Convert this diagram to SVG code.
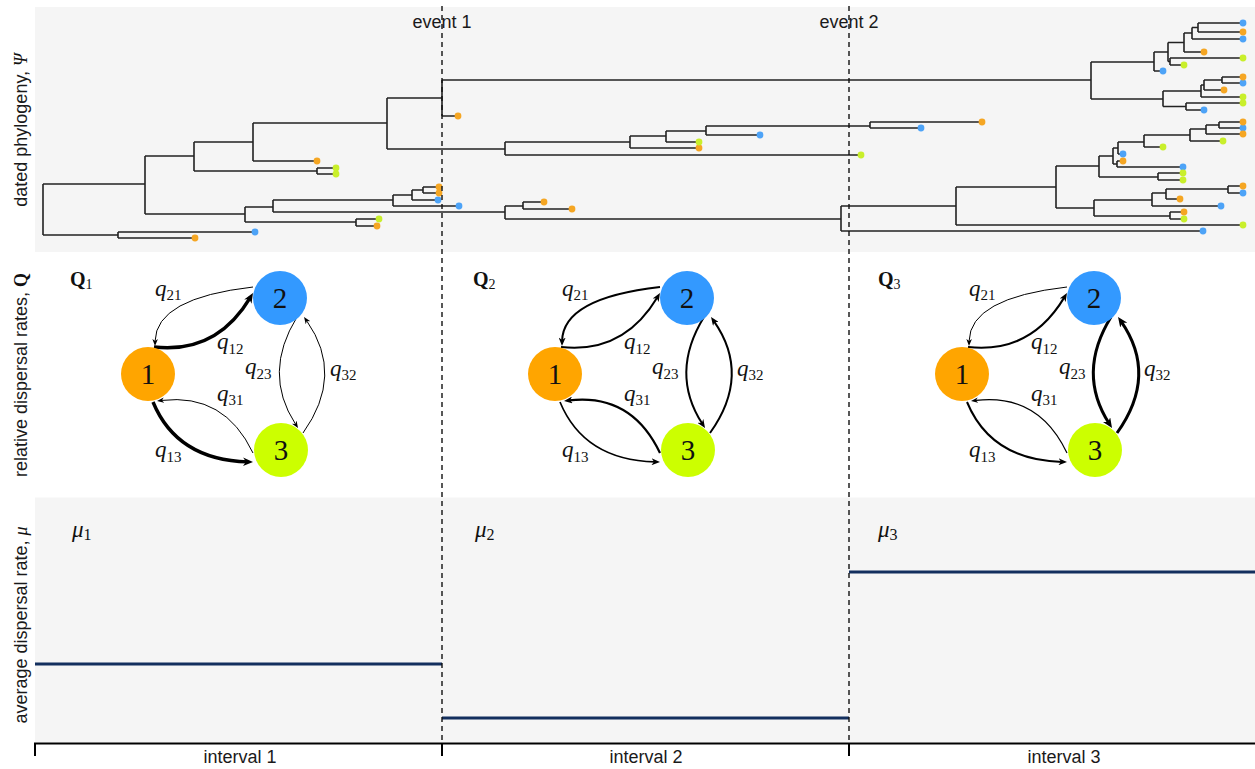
<svg xmlns="http://www.w3.org/2000/svg" width="1255" height="769" viewBox="0 0 1255 769">
<style>
.panel{fill:#f5f5f5}
.tree{fill:none;stroke:#222;stroke-width:1.6}
.tb{fill:#4da3f7}.to{fill:#f5a623}.tg{fill:#c9ef2b}
.ev{stroke:#111;stroke-width:1.4;stroke-dasharray:5 4;fill:none}
.lab{font-family:"Liberation Sans",Arial,sans-serif;font-size:18px;fill:#1a1a1a}
.math{font-family:"Liberation Serif","DejaVu Serif",serif;fill:#111}
.q{font-size:23px}
.sub{font-size:15px;font-style:normal}
.num{font-family:"Liberation Serif","DejaVu Serif",serif;font-size:29px;text-anchor:middle;fill:#111}
.edge{fill:none;stroke:#000}
.w1{stroke-width:1;marker-end:url(#a1)}
.w2{stroke-width:2;marker-end:url(#a2)}
.w3{stroke-width:3.4;marker-end:url(#a3)}
.rate{stroke:#132f5e;stroke-width:3;fill:none}
.axis{stroke:#000;stroke-width:2;fill:none}
</style>
<defs>
<marker id="a1" markerUnits="userSpaceOnUse" markerWidth="7" markerHeight="5.6" refX="2" refY="2.8" orient="auto"><path d="M0,0 L7,2.8 L0,5.6 L2.1,2.8 Z" fill="#000"/></marker>
<marker id="a2" markerUnits="userSpaceOnUse" markerWidth="8.5" markerHeight="7" refX="3.5" refY="3.5" orient="auto"><path d="M0,0 L8.5,3.5 L0,7 L2.5,3.5 Z" fill="#000"/></marker>
<marker id="a3" markerUnits="userSpaceOnUse" markerWidth="10" markerHeight="8.6" refX="5" refY="4.3" orient="auto"><path d="M0,0 L10,4.3 L0,8.6 L3,4.3 Z" fill="#000"/></marker>
</defs>

<rect width="1255" height="769" fill="#fff"/>
<rect class="panel" x="35" y="7" width="1220" height="245"/>
<rect class="panel" x="35" y="497.5" width="1220" height="245"/>

<g id="phylogeny">
<path class="tree" d="M43 184V235M43 184H145M43 235H118
M118 232V238M118 232H255M118 238H195
M145 156V214M145 156H194M145 214H245
M194 142V171M194 142H253M194 171H317
M317 168V174M317 168H336M317 174H336
M253 123V161M253 123H387M253 161H317
M387 98V149M387 98H442M387 149H505
M442 80V116M442 80H1091M442 116H458
M505 142V155M505 142H630M505 155H861
M630 136V148M630 136H666M630 148H699
M666 131V142M666 131H706M666 142H699
M706 126V135M706 126H870M706 135H760
M870 122V128M870 122H982M870 128H921
M245 207V222M245 207H273M245 222H356
M356 219V226M356 219H379M356 226H377
M273 200V212M273 200H393M273 212H505
M393 195V206M393 195H412M393 206H459
M412 190V200M412 190H423M412 200H438
M423 187V193M423 187H439M423 193H439
M505 206V219M505 206H523M505 219H841
M523 202V209M523 202H544M523 209H572
M841 206V231M841 206H956M841 231H1203
M956 187V225M956 187H1056M956 225H1243
M1056 166V208M1056 166H1099M1056 208H1094
M1099 156V177M1099 156H1113M1099 177H1158
M1158 173V180M1158 173H1183M1158 180H1183
M1113 148V164M1113 148H1118M1113 164H1117
M1118 142V154M1118 142H1144M1118 154H1123
M1117 161V167M1117 161H1123M1117 167H1183
M1144 135V147M1144 135H1190M1144 147H1163
M1190 129V141M1190 129H1206M1190 141H1223
M1206 125V134M1206 125H1219M1206 134H1243
M1219 122V128M1219 122H1243M1219 128H1243
M1094 200V216M1094 200H1152M1094 216H1170
M1152 193V206M1152 193H1166M1152 206H1221
M1166 189V199M1166 189H1228M1166 199H1180
M1228 186V193M1228 186H1243M1228 193H1243
M1170 212V219M1170 212H1184M1170 219H1184
M1091 62V99M1091 62H1154M1091 99H1163
M1154 52V71M1154 52H1168M1154 71H1163
M1168 42.5V61.5M1168 42.5H1184M1168 61.5H1170
M1184 33V52M1184 33H1192M1184 52H1204
M1192 27.5V39M1192 27.5H1198M1192 39H1243
M1198 23V32M1198 23H1243M1198 32H1243
M1170 58V65M1170 58H1243M1170 65H1184
M1163 91V106.5M1163 91H1201M1163 106.5H1186
M1201 85V97M1201 85H1204M1201 97H1243
M1204 80V90M1204 80H1222M1204 90H1224
M1222 77V83M1222 77H1243M1222 83H1243
M1186 103V110M1186 103H1243M1186 110H1204"/>
<g class="tb">
<circle cx="255" cy="232" r="3.4"/><circle cx="760" cy="135" r="3.4"/><circle cx="921" cy="128" r="3.4"/><circle cx="459" cy="206" r="3.4"/><circle cx="438" cy="200" r="3.4"/><circle cx="1203" cy="231" r="3.4"/><circle cx="1123" cy="154" r="3.4"/><circle cx="1183" cy="167" r="3.4"/><circle cx="1243" cy="128" r="3.4"/><circle cx="1221" cy="206" r="3.4"/><circle cx="1243" cy="193" r="3.4"/><circle cx="1163" cy="71" r="3.4"/><circle cx="1243" cy="39" r="3.4"/><circle cx="1243" cy="23" r="3.4"/><circle cx="1243" cy="83" r="3.4"/><circle cx="1204" cy="110" r="3.4"/>
</g>
<g class="to">
<circle cx="195" cy="238" r="3.4"/><circle cx="317" cy="161" r="3.4"/><circle cx="458" cy="116" r="3.4"/><circle cx="699" cy="148" r="3.4"/><circle cx="982" cy="122" r="3.4"/><circle cx="377" cy="226" r="3.4"/><circle cx="439" cy="187" r="3.4"/><circle cx="439" cy="193" r="3.4"/><circle cx="544" cy="202" r="3.4"/><circle cx="572" cy="209" r="3.4"/><circle cx="1123" cy="161" r="3.4"/><circle cx="1243" cy="134" r="3.4"/><circle cx="1243" cy="122" r="3.4"/><circle cx="1180" cy="199" r="3.4"/><circle cx="1243" cy="186" r="3.4"/><circle cx="1184" cy="212" r="3.4"/><circle cx="1204" cy="52" r="3.4"/><circle cx="1243" cy="32" r="3.4"/><circle cx="1224" cy="90" r="3.4"/><circle cx="1243" cy="77" r="3.4"/>
</g>
<g class="tg">
<circle cx="336" cy="168" r="3.4"/><circle cx="336" cy="174" r="3.4"/><circle cx="861" cy="155" r="3.4"/><circle cx="699" cy="142" r="3.4"/><circle cx="379" cy="219" r="3.4"/><circle cx="1243" cy="225" r="3.4"/><circle cx="1183" cy="173" r="3.4"/><circle cx="1183" cy="180" r="3.4"/><circle cx="1163" cy="147" r="3.4"/><circle cx="1223" cy="141" r="3.4"/><circle cx="1184" cy="219" r="3.4"/><circle cx="1243" cy="58" r="3.4"/><circle cx="1184" cy="65" r="3.4"/><circle cx="1243" cy="97" r="3.4"/><circle cx="1243" cy="103" r="3.4"/>
</g>
</g>

<g id="rates">
<path class="rate" d="M35 664H442M442 718H849M849 572H1255"/>
</g>

<g id="events">
<path class="ev" d="M442 6V743M849 6V743"/>
<text class="lab" x="442" y="28" text-anchor="middle">event 1</text>
<text class="lab" x="849" y="28" text-anchor="middle">event 2</text>
</g>

<g id="axis">
<path class="axis" d="M35 743.5H1255M35 742.5V756M442 742.5V756M849 742.5V756"/>
<text class="lab" x="240" y="763" text-anchor="middle">interval 1</text>
<text class="lab" x="646" y="763" text-anchor="middle">interval 2</text>
<text class="lab" x="1064" y="763" text-anchor="middle">interval 3</text>
</g>

<g id="ylabels">
<text class="lab" transform="translate(27,130) rotate(-90)" text-anchor="middle">dated phylogeny, <tspan class="math" font-style="italic">Ψ</tspan></text>
<text class="lab" transform="translate(27,375) rotate(-90)" text-anchor="middle">relative dispersal rates, <tspan class="math" font-weight="bold">Q</tspan></text>
<text class="lab" transform="translate(27,625) rotate(-90)" text-anchor="middle">average dispersal rate, <tspan class="math" font-style="italic">μ</tspan></text>
</g>

<g id="panel-labels">
<text class="math" x="70" y="286" font-size="20" font-weight="bold">Q<tspan font-size="14" font-weight="normal" dy="3">1</tspan></text>
<text class="math" x="473" y="286" font-size="20" font-weight="bold">Q<tspan font-size="14" font-weight="normal" dy="3">2</tspan></text>
<text class="math" x="878" y="286" font-size="20" font-weight="bold">Q<tspan font-size="14" font-weight="normal" dy="3">3</tspan></text>
<text class="math" x="72" y="537" font-size="23" font-style="italic">μ<tspan font-size="16" font-style="normal" dy="3">1</tspan></text>
<text class="math" x="475" y="537" font-size="23" font-style="italic">μ<tspan font-size="16" font-style="normal" dy="3">2</tspan></text>
<text class="math" x="878" y="537" font-size="23" font-style="italic">μ<tspan font-size="16" font-style="normal" dy="3">3</tspan></text>
</g>

<!-- Panel 1 -->
<g id="Q1-network">
<g id="Q1-connectors">
<path class="edge w3" d="M154 347Q216.5 354 250.4 297.3"/>
<path class="edge w1" d="M253 287Q156 298 155.1 341"/>
<path class="edge w1" d="M297 317Q262.5 373 295.3 423.8"/>
<path class="edge w1" d="M303 433Q344.5 375 306.9 321.1"/>
<path class="edge w1" d="M253 453Q224.5 393 162 400.4"/>
<path class="edge w3" d="M153 402Q177 460 248 461.9"/>
</g>
<g id="Q1-node-1"><circle cx="148" cy="374" r="27" fill="#ffa500"/><text class="num" x="148" y="384">1</text></g>
<g id="Q1-node-2"><circle cx="280" cy="298" r="27" fill="#3399ff"/><text class="num" x="280" y="308">2</text></g>
<g id="Q1-node-3"><circle cx="281" cy="450" r="27" fill="#ccff00"/><text class="num" x="281" y="460">3</text></g>
<g id="Q1-labels" class="math q">
<text x="155" y="295.5"><tspan font-style="italic">q</tspan><tspan class="sub" dy="4.5">21</tspan></text>
<text x="217" y="349"><tspan font-style="italic">q</tspan><tspan class="sub" dy="4.5">12</tspan></text>
<text x="245" y="374"><tspan font-style="italic">q</tspan><tspan class="sub" dy="4.5">23</tspan></text>
<text x="330" y="375.5"><tspan font-style="italic">q</tspan><tspan class="sub" dy="4.5">32</tspan></text>
<text x="217" y="400.5"><tspan font-style="italic">q</tspan><tspan class="sub" dy="4.5">31</tspan></text>
<text x="155" y="457"><tspan font-style="italic">q</tspan><tspan class="sub" dy="4.5">13</tspan></text>
</g>
</g>

<!-- Panel 2 -->
<g id="Q2-network" transform="translate(407,0)">
<g id="Q2-connectors">
<path class="edge w2" d="M154 347Q216.5 354 250.4 297.3"/>
<path class="edge w2" d="M253 287Q156 298 155.1 341"/>
<path class="edge w2" d="M297 317Q262.5 373 295.3 423.8"/>
<path class="edge w2" d="M303 433Q344.5 375 306.9 321.1"/>
<path class="edge w2" d="M253 453Q224.5 393 162 400.4" style="stroke-width:2.2"/>
<path class="edge w2" d="M153 402Q177 460 248 461.9" style="stroke-width:1.7"/>
</g>
<g id="Q2-node-1"><circle cx="148" cy="374" r="27" fill="#ffa500"/><text class="num" x="148" y="384">1</text></g>
<g id="Q2-node-2"><circle cx="280" cy="298" r="27" fill="#3399ff"/><text class="num" x="280" y="308">2</text></g>
<g id="Q2-node-3"><circle cx="281" cy="450" r="27" fill="#ccff00"/><text class="num" x="281" y="460">3</text></g>
<g id="Q2-labels" class="math q">
<text x="155" y="295.5"><tspan font-style="italic">q</tspan><tspan class="sub" dy="4.5">21</tspan></text>
<text x="217" y="349"><tspan font-style="italic">q</tspan><tspan class="sub" dy="4.5">12</tspan></text>
<text x="245" y="374"><tspan font-style="italic">q</tspan><tspan class="sub" dy="4.5">23</tspan></text>
<text x="330" y="375.5"><tspan font-style="italic">q</tspan><tspan class="sub" dy="4.5">32</tspan></text>
<text x="217" y="400.5"><tspan font-style="italic">q</tspan><tspan class="sub" dy="4.5">31</tspan></text>
<text x="155" y="457"><tspan font-style="italic">q</tspan><tspan class="sub" dy="4.5">13</tspan></text>
</g>
</g>

<!-- Panel 3 -->
<g id="Q3-network" transform="translate(814,0)">
<g id="Q3-connectors">
<path class="edge w2" d="M154 347Q216.5 354 250.4 297.3" style="stroke-width:2.2"/>
<path class="edge w1" d="M253 287Q156 298 155.1 341"/>
<path class="edge w3" d="M297 317Q262.5 373 295.3 423.8" style="stroke-width:3"/>
<path class="edge w3" d="M303 433Q344.5 375 306.9 321.1" style="stroke-width:3"/>
<path class="edge w1" d="M253 453Q224.5 393 162 400.4" style="stroke-width:1.2"/>
<path class="edge w2" d="M153 402Q177 460 248 461.9"/>
</g>
<g id="Q3-node-1"><circle cx="148" cy="374" r="27" fill="#ffa500"/><text class="num" x="148" y="384">1</text></g>
<g id="Q3-node-2"><circle cx="280" cy="298" r="27" fill="#3399ff"/><text class="num" x="280" y="308">2</text></g>
<g id="Q3-node-3"><circle cx="281" cy="450" r="27" fill="#ccff00"/><text class="num" x="281" y="460">3</text></g>
<g id="Q3-labels" class="math q">
<text x="155" y="295.5"><tspan font-style="italic">q</tspan><tspan class="sub" dy="4.5">21</tspan></text>
<text x="217" y="349"><tspan font-style="italic">q</tspan><tspan class="sub" dy="4.5">12</tspan></text>
<text x="245" y="374"><tspan font-style="italic">q</tspan><tspan class="sub" dy="4.5">23</tspan></text>
<text x="330" y="375.5"><tspan font-style="italic">q</tspan><tspan class="sub" dy="4.5">32</tspan></text>
<text x="217" y="400.5"><tspan font-style="italic">q</tspan><tspan class="sub" dy="4.5">31</tspan></text>
<text x="155" y="457"><tspan font-style="italic">q</tspan><tspan class="sub" dy="4.5">13</tspan></text>
</g>
</g>
</svg>
